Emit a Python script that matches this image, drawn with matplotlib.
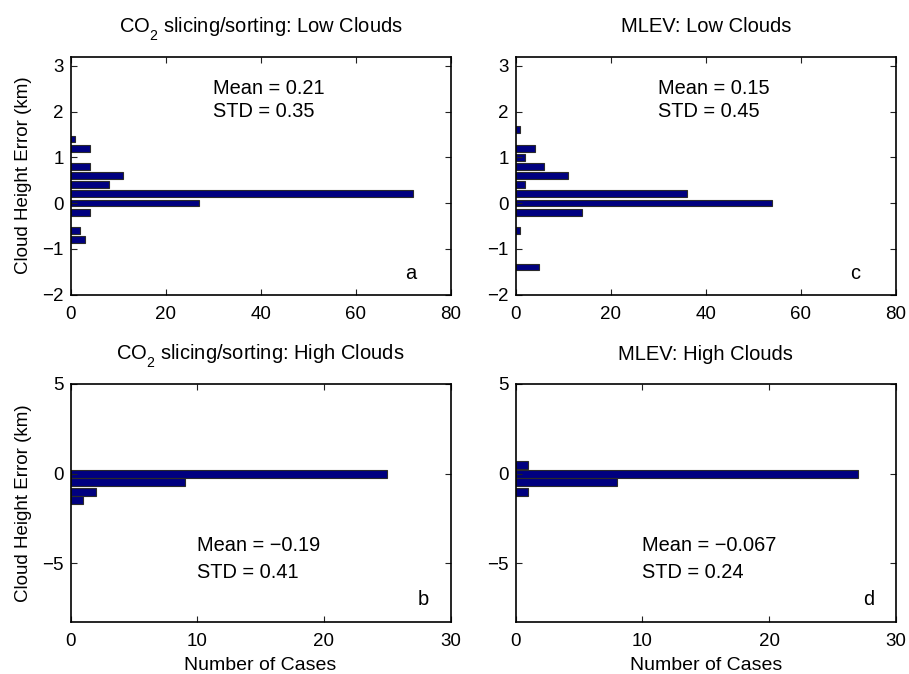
import matplotlib
matplotlib.use("Agg")
import matplotlib.pyplot as plt

plt.rcParams['font.family'] = ['Liberation Sans', 'DejaVu Sans']
plt.rcParams['mathtext.fontset'] = 'custom'
plt.rcParams['mathtext.rm'] = 'Liberation Sans'
plt.rcParams['mathtext.it'] = 'Liberation Sans:italic'
plt.rcParams['mathtext.bf'] = 'Liberation Sans:bold'
try:
    import matplotlib._mathtext as _mt
    _mt.FontConstantsBase.sub1 = 0.75
    _mt.FontConstantsBase.sub2 = 0.8
except Exception:
    pass

# ---- data ----
bins_a = [1.4, 1.2, 0.8, 0.6, 0.4, 0.2, 0.0, -0.2, -0.6, -0.8]
counts_a = [1, 4, 4, 11, 8, 72, 27, 4, 2, 3]

bins_c = [1.6, 1.2, 1.0, 0.8, 0.6, 0.4, 0.2, 0.0, -0.2, -0.6, -1.4]
counts_c = [1, 4, 2, 6, 11, 2, 36, 54, 14, 1, 5]

bins_b = [0.0, -0.47, -1.02, -1.47]
counts_b = [25, 9, 2, 1]

bins_d = [0.47, 0.0, -0.47, -1.0]
counts_d = [1, 27, 8, 1]

titles = ["CO$_2$ slicing/sorting: Low Clouds", "MLEV: Low Clouds",
          "CO$_2$ slicing/sorting: High Clouds", "MLEV: High Clouds"]
means = ["0.21", "0.15", "\u22120.19", "\u22120.067"]
stds = ["0.35", "0.45", "0.41", "0.24"]
letters = ["a", "c", "b", "d"]

W, H = 909, 674
fig = plt.figure(figsize=(W / 100, H / 100), dpi=100)

def ax_at(l, t, r, b):
    return fig.add_axes([l / W, 1 - b / H, (r - l) / W, (b - t) / H])

ax_a = ax_at(70.5, 56.7, 450.7, 294.5)
ax_c = ax_at(515.7, 56.7, 895.7, 294.5)
ax_b = ax_at(70.5, 384, 450.7, 621.7)
ax_d = ax_at(515.7, 384, 895.7, 621.7)

face = '#000080'
edge = '#2b2b2b'

panels = [
    (ax_a, bins_a, counts_a, 0.15, (0, 80), (-2, 3.2), [0, 20, 40, 60, 80], [-2, -1, 0, 1, 2, 3],
     (30, 2.5), (30, 2.0), (70.5, -1.53)),
    (ax_c, bins_c, counts_c, 0.15, (0, 80), (-2, 3.2), [0, 20, 40, 60, 80], [-2, -1, 0, 1, 2, 3],
     (30, 2.5), (30, 2.0), (70.5, -1.53)),
    (ax_b, bins_b, counts_b, 0.46, (0, 30), (-8.25, 5), [0, 10, 20, 30], [-5, 0, 5],
     (10, -4.03), (10, -5.5), (27.4, -7.0)),
    (ax_d, bins_d, counts_d, 0.46, (0, 30), (-8.25, 5), [0, 10, 20, 30], [-5, 0, 5],
     (10, -4.03), (10, -5.5), (27.4, -7.0)),
]

for i, (ax, bins, counts, hgt, xl, yl, xt, yt, mpos, spos, lpos) in enumerate(panels):
    ax.barh(bins, counts, height=hgt, color=face, edgecolor=edge, linewidth=0.8)
    ax.set_xlim(*xl)
    ax.set_ylim(*yl)
    ax.set_xticks(xt)
    ax.set_yticks(yt)
    ax.set_yticklabels([str(v).replace('-', '\u2212') for v in yt])
    ax.tick_params(direction='in', length=4, width=0.8, top=True, right=True,
                   labelsize=13.5, color='#222222')
    ax.tick_params(axis='x', pad=8)
    ax.tick_params(axis='y', pad=5)
    for s in ax.spines.values():
        s.set_linewidth(1.2)
    ax.set_title(titles[i], fontsize=14.5, pad=17.5)
    ax.text(mpos[0], mpos[1], "Mean = " + means[i], fontsize=14.4, va='center', ha='left')
    ax.text(spos[0], spos[1], "STD = " + stds[i], fontsize=14.4, va='center', ha='left')
    ax.text(lpos[0], lpos[1], letters[i], fontsize=14.4, va='center', ha='left')

ax_a.set_ylabel("Cloud Height Error (km)", fontsize=13.5, labelpad=7)
ax_b.set_ylabel("Cloud Height Error (km)", fontsize=13.5, labelpad=7)
ax_b.set_xlabel("Number of Cases", fontsize=14, labelpad=5)
ax_d.set_xlabel("Number of Cases", fontsize=14, labelpad=5)

fig.savefig("out.png", dpi=100)
